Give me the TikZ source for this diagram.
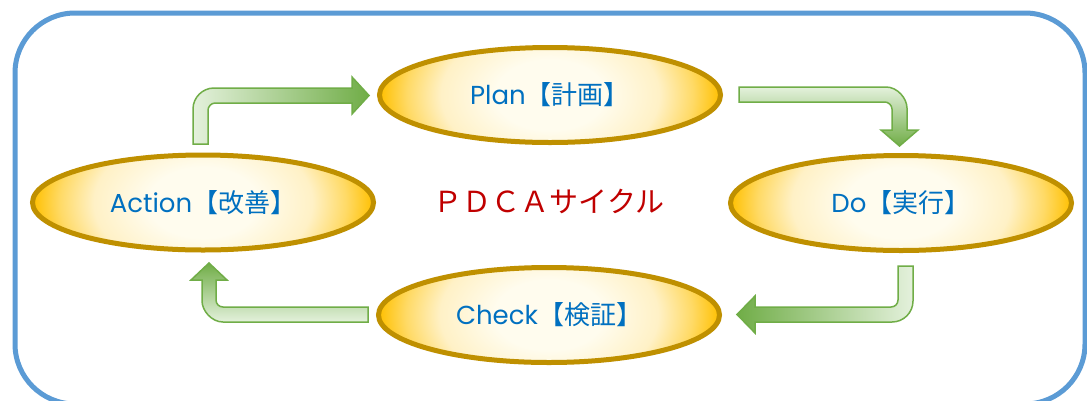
\documentclass[tikz,border=0pt]{standalone}
\usepackage{fontspec}
\setmainfont{Noto Sans CJK JP}
\newfontfamily\latinface{Poppins}
\usetikzlibrary{shapes.geometric}

\definecolor{frameblue}{HTML}{5B9BD5}
\definecolor{ringgold}{HTML}{BF9000}
\definecolor{fillgold}{HTML}{FFC000}
\definecolor{fillwarm}{HTML}{FFDA66}
\definecolor{filllight}{HTML}{FFF1C6}
\definecolor{fillcream}{HTML}{FFFCEE}
\definecolor{arrowdark}{HTML}{70AD47}
\definecolor{arrowpale}{HTML}{E4F1DC}
\definecolor{textblue}{HTML}{0070C0}
\definecolor{textred}{HTML}{C00000}

% warm glow inside each stage ellipse
\pgfdeclareradialshading{eggfill}{\pgfpoint{0bp}{0bp}}{%
  color(0bp)=(fillcream); color(8bp)=(fillcream); color(16bp)=(filllight);
  color(21bp)=(fillwarm); color(25bp)=(fillgold); color(50bp)=(fillgold)}

\tikzset{
  stage/.style={ellipse, draw=ringgold, line width=5pt,
    minimum width=341pt, minimum height=95pt, inner sep=0pt,
    font=\fontsize{26}{30}\selectfont, text=textblue,
    path picture={\shade[shading=eggfill]
      ([yshift=-110pt]path picture bounding box.west) rectangle
      ([yshift=110pt]path picture bounding box.east);}},
  flow/.style={draw=arrowdark, line width=1.5pt, line join=miter},
  frame/.style={draw=frameblue, line width=5pt, rounded corners=60pt}
}

\begin{document}
\begin{tikzpicture}[x=1pt, y=-1pt]
  \useasboundingbox (0,0) rectangle (1087,400);
  \fill[white] (0,0) rectangle (1087,400);

  % outer frame
  \draw[frame] (15,13) rectangle (1085,404);

  % the four stages
  \node[stage] (plan)  at (550,95)    {{\latinface Plan}【計画】};
  \node[stage] (do)    at (901,203)   {{\latinface Do}【実行】};
  \node[stage] (check) at (549,315)   {{\latinface Check}【検証】};
  \node[stage] (act)   at (203,202.5) {{\latinface Action}【改善】};

  % centre title
  \node[font=\fontsize{29}{32}\selectfont, text=textred] (title) at (549,201)
    {ＰＤＣＡサイクル};

  % tails of the bent block arrows
  \coordinate (actout)   at (200.5,144);
  \coordinate (planout)  at (739,94.5);
  \coordinate (doout)    at (905.5,266);
  \coordinate (checkout) at (368,314.5);

  % Action -> Plan
  \path[flow, left color=arrowpale, right color=arrowdark]
    (193,144) -- (193,109) .. controls (193,97.4) and (202.6,88) .. (214,88)
    -- (352,88) -- (352,77) -- (369,95.5) -- (352,114) -- (352,103)
    -- (215,103) .. controls (211.1,103) and (208,106.9) .. (208,110)
    -- (208,144) -- cycle;

  % Plan -> Do
  \path[flow, top color=arrowpale, bottom color=arrowdark]
    (739,87) -- (886,87) .. controls (897.6,87) and (907,98.6) .. (907,108)
    -- (907,130) -- (918,130) -- (899.5,146) -- (881,130) -- (892,130)
    -- (892,109) .. controls (892,105.1) and (888.1,102) .. (885,102)
    -- (739,102) -- cycle;

  % Do -> Check
  \path[flow, right color=arrowpale, left color=arrowdark]
    (898,266) -- (913,266) -- (913,301) .. controls (913,312.6) and (903.6,322) .. (892,322)
    -- (755,322) -- (755,333) -- (737,314.5) -- (755,296) -- (755,307)
    -- (891,307) .. controls (894.9,307) and (898,303.9) .. (898,300)
    -- cycle;

  % Check -> Action
  \path[flow, bottom color=arrowpale, top color=arrowdark]
    (368,307) -- (368,322) -- (223,322) .. controls (211.4,322) and (202,310.4) .. (202,301)
    -- (202,280) -- (191,280) -- (209,263) -- (227,280) -- (216,280)
    -- (216,300) .. controls (216,303.9) and (219.1,307) .. (223,307)
    -- cycle;
\end{tikzpicture}
\end{document}
